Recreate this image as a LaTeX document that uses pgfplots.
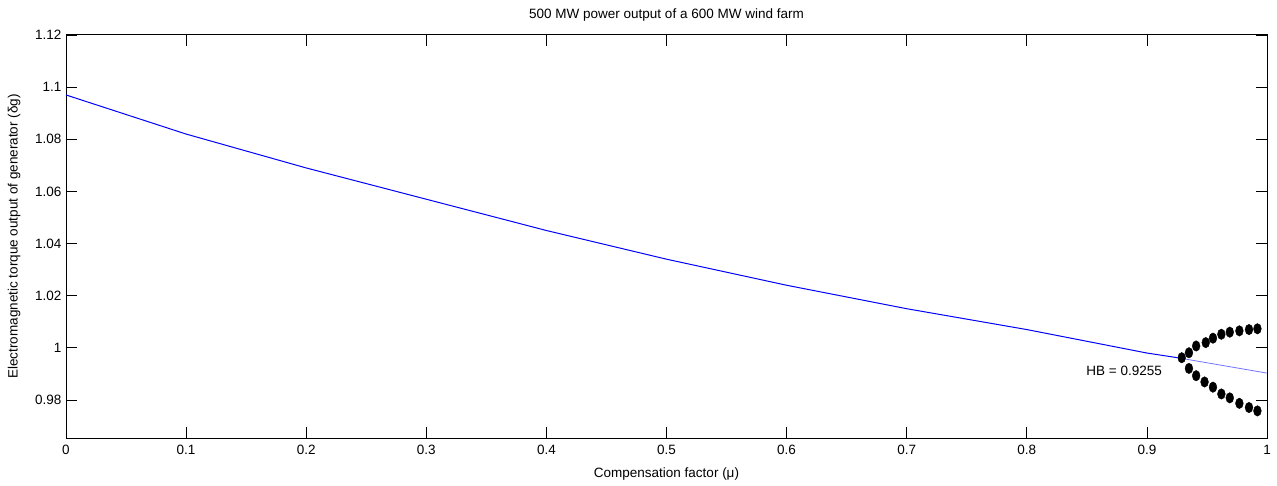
\documentclass[border=0pt]{standalone}
\usepackage{fontspec}
\setmainfont{Liberation Sans}
\usepackage{pgfplots}
\pgfplotsset{compat=1.18}
\usetikzlibrary{calc}
\begin{document}
\begin{tikzpicture}
\begin{axis}[
  scale only axis,
  width=1201pt, height=403pt,
  xmin=0, xmax=1, ymin=0.9654, ymax=1.12,
  xtick={0,0.1,0.2,0.3,0.4,0.5,0.6,0.7,0.8,0.9,1},
  xticklabels={0,0.1,0.2,0.3,0.4,0.5,0.6,0.7,0.8,0.9,1},
  ytick={0.98,1,1.02,1.04,1.06,1.08,1.1,1.12},
  yticklabels={0.98,1,1.02,1.04,1.06,1.08,1.1,1.12},
  tick align=inside,
  major tick length=11pt,
  tick style={black, line width=0.8pt},
  axis line style={black, line width=1pt},
  ticklabel style={font=\fontsize{13.5}{15}\selectfont},
  xticklabel style={yshift=-4pt},
  yticklabel style={xshift=-1pt},
  /pgf/number format/assume math mode=true,
  xlabel={Compensation factor (μ)},
  ylabel={Electromagnetic torque output of generator (δg)},
  label style={font=\fontsize{13.5}{15}\selectfont},
  title={500 MW power output of a 600 MW wind farm},
  title style={font=\fontsize{13.5}{15}\selectfont, yshift=4pt},
  xlabel style={yshift=-6pt},
  ylabel style={yshift=8pt},
  clip=false,
]
\addplot[blue, line width=1pt] coordinates {
(0,1.097) (0.1,1.082) (0.2,1.069) (0.3,1.057) (0.4,1.045) (0.5,1.034)
(0.6,1.024) (0.7,1.015) (0.8,1.007) (0.9,0.998) (0.9255,0.9962)};
\addplot[blue!55, line width=0.8pt] coordinates {
(0.9255,0.9962) (1,0.9903)};
\addplot[only marks, mark=*, mark size=5pt, mark options={black, fill=black, xscale=0.78, yscale=1.05}] coordinates {
(0.929,0.9962)
(0.935,0.9981) (0.941,1.0007) (0.949,1.0020) (0.955,1.0037) (0.962,1.0052)
(0.969,1.0060) (0.977,1.0065) (0.985,1.0070) (0.992,1.0073)
(0.935,0.9921) (0.941,0.9893) (0.948,0.9869) (0.955,0.9849) (0.962,0.9823)
(0.969,0.9808) (0.977,0.9787) (0.985,0.9771) (0.992,0.9758)};
\node[font=\fontsize{13.5}{15}\selectfont] at (axis cs:0.881,0.9911) {HB = 0.9255};
\end{axis}
\pgfresetboundingbox
\path[use as bounding box] ($(current axis.south west)+(-66pt,-47pt)$) rectangle ($(current axis.north east)+(10pt,35pt)$);
\end{tikzpicture}
\end{document}
